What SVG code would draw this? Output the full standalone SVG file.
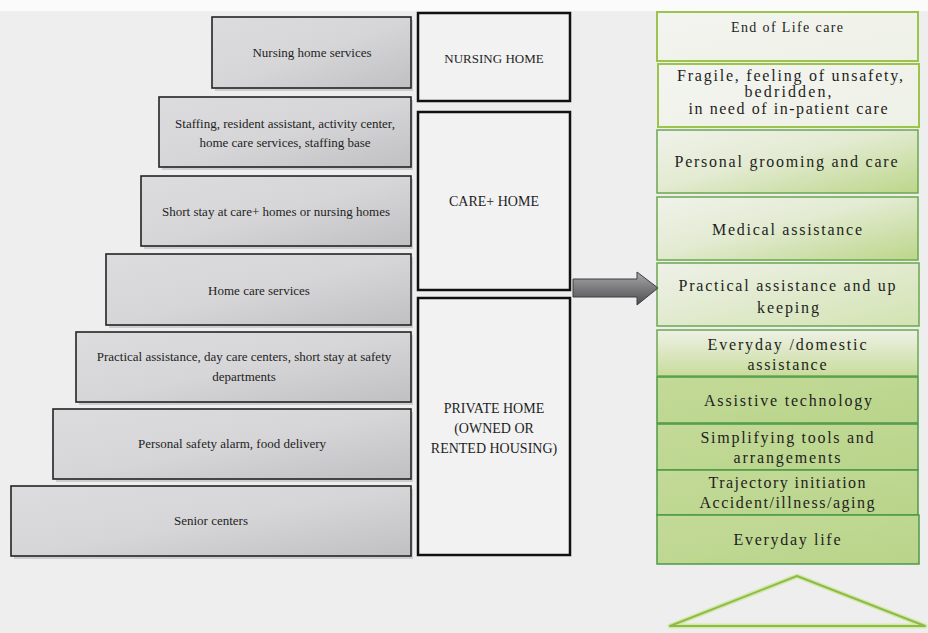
<svg xmlns="http://www.w3.org/2000/svg" width="928" height="633" viewBox="0 0 928 633">
<defs>
<linearGradient id="gGray" x1="0" y1="0" x2="1" y2="1">
<stop offset="0" stop-color="#dcdcde"/>
<stop offset="0.5" stop-color="#d6d6d8"/>
<stop offset="1" stop-color="#c0c0c2"/>
</linearGradient>
<linearGradient id="gPale" x1="0" y1="0" x2="1" y2="1">
<stop offset="0" stop-color="#f3f4f0"/>
<stop offset="1" stop-color="#eef1e6"/>
</linearGradient>
<linearGradient id="gDiag" x1="0" y1="0" x2="1" y2="1">
<stop offset="0" stop-color="#f0f2ea"/>
<stop offset="0.45" stop-color="#e3ebd2"/>
<stop offset="1" stop-color="#bcd68a"/>
</linearGradient>
<linearGradient id="gLight" x1="0" y1="0" x2="1" y2="1">
<stop offset="0" stop-color="#eef1e8"/>
<stop offset="1" stop-color="#d3e3b2"/>
</linearGradient>
<linearGradient id="gVert" x1="0" y1="0" x2="0" y2="1">
<stop offset="0" stop-color="#eef1e6"/>
<stop offset="1" stop-color="#c8dc9c"/>
</linearGradient>
<linearGradient id="gSolid" x1="0" y1="0" x2="1" y2="1">
<stop offset="0" stop-color="#c3da98"/>
<stop offset="1" stop-color="#b9d48a"/>
</linearGradient>
<linearGradient id="gArrow" x1="0" y1="0" x2="0" y2="1">
<stop offset="0" stop-color="#a8a8aa"/>
<stop offset="0.5" stop-color="#7a7a7c"/>
<stop offset="1" stop-color="#4e4e50"/>
</linearGradient>
</defs>
<style>
text{font-family:"Liberation Serif","Times New Roman","DejaVu Serif",serif}
.lbox{fill:url(#gGray);stroke:#242424;stroke-width:1.6}
.shadow{fill:#9a9a9a;opacity:0.4}
.ltxt{font-size:13px;fill:#1e1e1e;text-anchor:middle}
.mbox{fill:#f2f2f3;stroke:#111;stroke-width:2.5}
.mtxt{font-size:14px;fill:#1e1e1e;text-anchor:middle}
.rtop{stroke:#9cc44c;stroke-width:2}
.rmid{stroke:#6aa84f;stroke-width:1.5}
.rlow{stroke:#4c9a44;stroke-width:1.5}
.rtxt{font-size:16px;fill:#1e1e1e;text-anchor:middle}
</style>
<rect x="0" y="0" width="928" height="633" fill="#eeeeef"/>
<rect x="0" y="0" width="928" height="11" fill="#fbfbfb"/>

<g id="n-nursing-services">
<rect class="shadow" x="215" y="20" width="198" height="71"/>
<rect class="lbox" x="212" y="17" width="199" height="71"/>
<text class="ltxt" x="312" y="57">Nursing home services</text>
</g>
<g id="n-staffing">
<rect class="shadow" x="162" y="100" width="251" height="70"/>
<rect class="lbox" x="159" y="97" width="252" height="70"/>
<text class="ltxt" x="285" y="128">Staffing, resident assistant, activity center,</text>
<text class="ltxt" x="285" y="147">home care services, staffing base</text>
</g>
<g id="n-short-stay">
<rect class="shadow" x="144" y="179" width="269" height="70"/>
<rect class="lbox" x="141" y="176" width="270" height="70"/>
<text class="ltxt" x="276" y="216">Short stay at care+ homes or nursing homes</text>
</g>
<g id="n-home-care">
<rect class="shadow" x="109" y="257" width="304" height="71"/>
<rect class="lbox" x="106" y="254" width="305" height="71"/>
<text class="ltxt" x="259" y="295">Home care services</text>
</g>
<g id="n-practical">
<rect class="shadow" x="79" y="335" width="334" height="70"/>
<rect class="lbox" x="76" y="332" width="335" height="70"/>
<text class="ltxt" x="244" y="361">Practical assistance, day care centers, short stay at safety</text>
<text class="ltxt" x="244" y="381">departments</text>
</g>
<g id="n-safety-alarm">
<rect class="shadow" x="56" y="412" width="357" height="70"/>
<rect class="lbox" x="53" y="409" width="358" height="70"/>
<text class="ltxt" x="232" y="448">Personal safety alarm, food delivery</text>
</g>
<g id="n-senior-centers">
<rect class="shadow" x="14" y="489" width="399" height="70"/>
<rect class="lbox" x="11" y="486" width="400" height="70"/>
<text class="ltxt" x="211" y="525">Senior centers</text>
</g>

<g id="n-nursing-home">
<rect class="mbox" x="418" y="13" width="152" height="88"/>
<text class="mtxt" x="494" y="63" style="font-size:13px">NURSING HOME</text>
</g>
<g id="n-care-home">
<rect class="mbox" x="418" y="112" width="152" height="178"/>
<text class="mtxt" x="494" y="206">CARE+ HOME</text>
</g>
<g id="n-private-home">
<rect class="mbox" x="418" y="298" width="152" height="257"/>
<text class="mtxt" x="494" y="413">PRIVATE HOME</text>
<text class="mtxt" x="494" y="433">(OWNED OR</text>
<text class="mtxt" x="494" y="453">RENTED HOUSING)</text>
</g>

<g id="r-end-of-life">
<rect class="rtop" x="657" y="12" width="261" height="49" fill="url(#gPale)"/>
<text class="rtxt" x="787" y="32" style="font-size:14px" textLength="112" lengthAdjust="spacing">End of Life care</text>
</g>
<g id="r-fragile">
<rect class="rtop" x="658" y="64" width="261" height="63" fill="url(#gPale)"/>
<text class="rtxt" x="790" y="81" textLength="226" lengthAdjust="spacing">Fragile, feeling of unsafety,</text>
<text class="rtxt" x="788" y="97" textLength="87" lengthAdjust="spacing">bedridden,</text>
<text class="rtxt" x="788" y="114" textLength="199" lengthAdjust="spacing">in need of in-patient care</text>
</g>
<g id="r-grooming">
<rect class="rmid" x="657" y="130" width="261" height="63" fill="url(#gDiag)"/>
<text class="rtxt" x="786" y="167" textLength="223" lengthAdjust="spacing">Personal grooming and care</text>
</g>
<g id="r-medical">
<rect class="rmid" x="657" y="197" width="261" height="63" fill="url(#gDiag)"/>
<text class="rtxt" x="787" y="235" textLength="150" lengthAdjust="spacing">Medical assistance</text>
</g>
<g id="r-practical">
<rect class="rmid" x="657" y="263" width="262" height="63" fill="url(#gLight)"/>
<text class="rtxt" x="787" y="291" textLength="217" lengthAdjust="spacing">Practical assistance and up</text>
<text class="rtxt" x="788" y="313" textLength="62" lengthAdjust="spacing">keeping</text>
</g>
<g id="r-everyday-domestic">
<rect class="rmid" x="657" y="330" width="261" height="46" fill="url(#gVert)"/>
<text class="rtxt" x="787" y="350" textLength="159" lengthAdjust="spacing">Everyday /domestic</text>
<text class="rtxt" x="787" y="370" textLength="79" lengthAdjust="spacing">assistance</text>
</g>
<g id="r-assistive">
<rect class="rlow" x="657" y="377" width="261" height="46" fill="url(#gSolid)"/>
<text class="rtxt" x="788" y="406" textLength="168" lengthAdjust="spacing">Assistive technology</text>
</g>
<g id="r-simplifying">
<rect class="rlow" x="657" y="424" width="261" height="46" fill="url(#gSolid)"/>
<text class="rtxt" x="787" y="443" textLength="173" lengthAdjust="spacing">Simplifying tools and</text>
<text class="rtxt" x="787" y="463" textLength="107" lengthAdjust="spacing">arrangements</text>
</g>
<g id="r-trajectory">
<rect class="rlow" x="657" y="470" width="261" height="45" fill="url(#gSolid)"/>
<text class="rtxt" x="787" y="488" textLength="157" lengthAdjust="spacing">Trajectory initiation</text>
<text class="rtxt" x="787" y="508" textLength="175" lengthAdjust="spacing">Accident/illness/aging</text>
</g>
<g id="r-everyday-life">
<rect class="rlow" x="657" y="515" width="262" height="49" fill="url(#gSolid)"/>
<text class="rtxt" x="787" y="545" textLength="107" lengthAdjust="spacing">Everyday life</text>
</g>

<g id="triangle">
<polygon points="797,576 670,626 925,626" fill="none" stroke="#d5e8a8" stroke-width="5" stroke-linejoin="round"/>
<polygon points="797,576 670,626 925,626" fill="none" stroke="#8dbb4a" stroke-width="2" stroke-linejoin="round"/>
</g>

<g id="connectors">
<polygon points="573,279 637,279 637,272 658,288 637,305 637,297 573,297" fill="url(#gArrow)" stroke="#3e3e40" stroke-width="1"/>
</g>
</svg>
